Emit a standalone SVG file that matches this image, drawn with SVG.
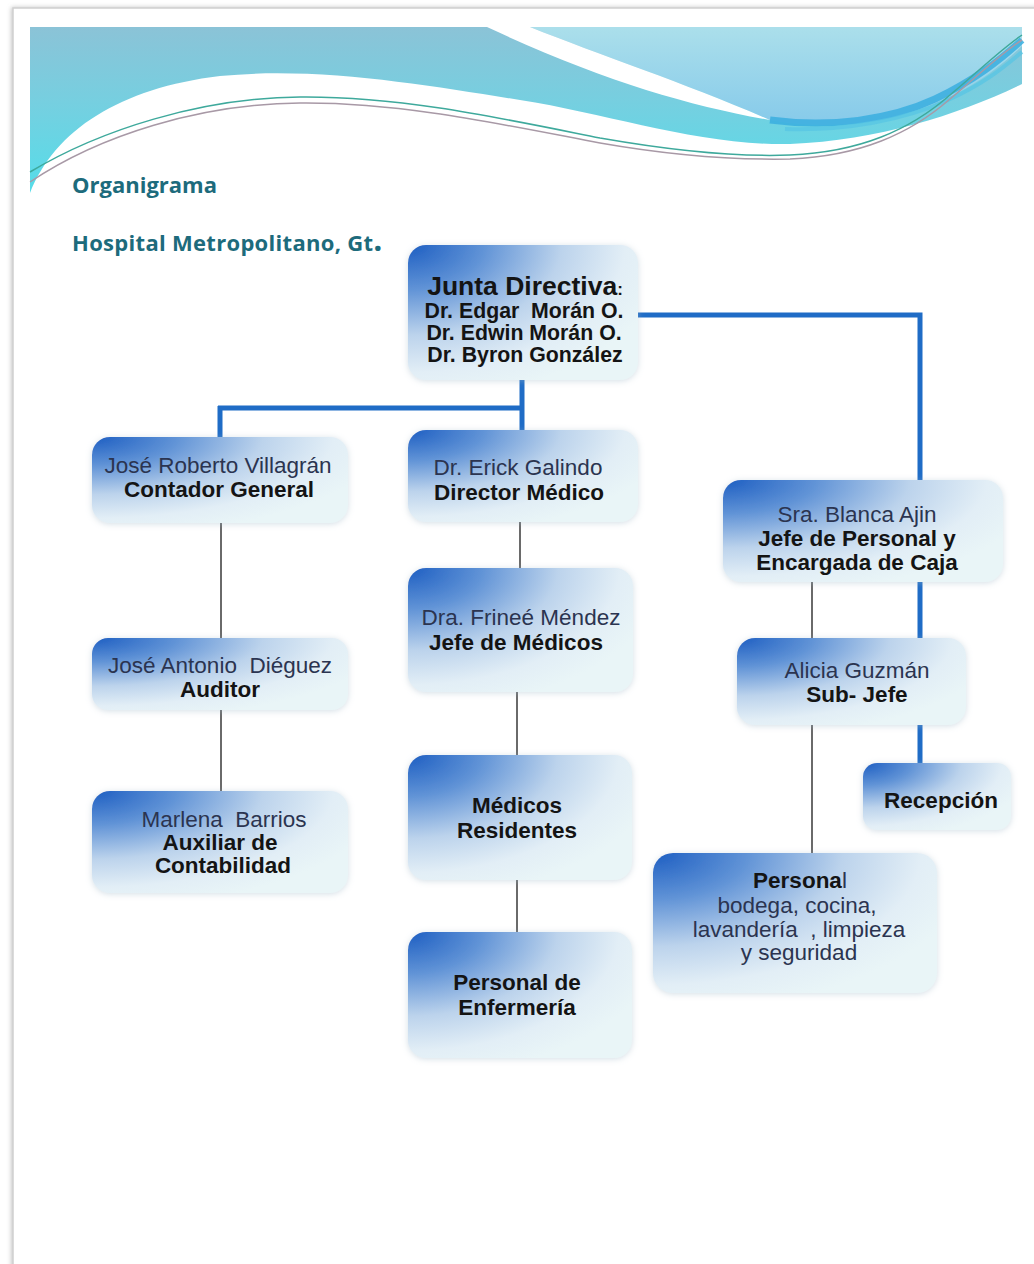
<svg xmlns="http://www.w3.org/2000/svg" width="1034" height="1264" viewBox="0 0 1034 1264">
  <defs>
    <linearGradient id="teal" x1="0" y1="27" x2="0" y2="193" gradientUnits="userSpaceOnUse">
      <stop offset="0" stop-color="#8bc3d7"/>
      <stop offset="0.45" stop-color="#76cfe0"/>
      <stop offset="1" stop-color="#55dde9"/>
    </linearGradient>
    <linearGradient id="light" x1="0" y1="27" x2="0" y2="125" gradientUnits="userSpaceOnUse">
      <stop offset="0" stop-color="#abdfeb"/>
      <stop offset="1" stop-color="#86caea"/>
    </linearGradient>
    <radialGradient id="ng" cx="0" cy="0" r="1.15" fx="0" fy="0" gradientUnits="objectBoundingBox">
      <stop offset="0" stop-color="#1d5ec2"/>
      <stop offset="0.28" stop-color="#5f92d6"/>
      <stop offset="0.58" stop-color="#bcd3ec"/>
      <stop offset="0.82" stop-color="#e2eef6"/>
      <stop offset="1" stop-color="#e9f5f7"/>
    </radialGradient>
    <filter id="glow" x="-10%" y="-15%" width="120%" height="130%">
      <feDropShadow dx="0" dy="1" stdDeviation="3" flood-color="#9fb6c8" flood-opacity="0.45"/>
    </filter>
    <filter id="page" x="-5%" y="-5%" width="110%" height="110%">
      <feDropShadow dx="-1" dy="0" stdDeviation="2" flood-color="#888" flood-opacity="0.5"/>
    </filter>
    <style>
      .box { fill: url(#ng); filter: url(#glow); }
      .nm { font-family: "Liberation Sans", Arial, sans-serif; font-size: 22.5px; fill: #2b3450; text-anchor: middle; }
      .tt { font-family: "Liberation Sans", Arial, sans-serif; font-size: 22.5px; font-weight: bold; fill: #141414; text-anchor: middle; }
      .big { font-size: 26.5px; }
      .dr { font-family: "Liberation Sans", Arial, sans-serif; font-size: 21.3px; font-weight: bold; fill: #141414; text-anchor: middle; }
      .head { font-family: "Open Sans", "Liberation Sans", sans-serif; font-weight: bold; fill: #1d6b7c; font-size: 22px; }
      .blue { stroke: #1f6cc6; stroke-width: 5; fill: none; }
      .gray { stroke: #6a6a6a; stroke-width: 2; fill: none; }
    </style>
  </defs>

  <rect x="0" y="0" width="1034" height="1264" fill="#ffffff"/>
  <rect x="13" y="8" width="1040" height="1280" fill="#ffffff" stroke="#cfcfcf" stroke-width="1.5" filter="url(#page)"/>

  <g id="header">
    <path d="M30,27 L1022,27 L1022,84 C960,114 880,140 790,144 C700,146 610,114 520,100 C430,86 320,66 220,76 C120,88 55,130 30,193 Z" fill="url(#teal)"/>
    <path d="M530,27 L1022,27 L1022,46 C985,82 940,108 880,120 C840,127 800,126 770,120 C690,85 600,55 530,27 Z" fill="url(#light)"/>
    <path d="M770,120 C830,128 890,120 935,99 C975,80 1000,60 1022,40" stroke="#3aaedf" stroke-width="7" fill="none" opacity="0.85"/>
    <path d="M785,129 C845,131 905,120 948,100 C988,82 1007,64 1022,52" stroke="#55c4e4" stroke-width="4" fill="none" opacity="0.7"/>
    <path d="M487,27 L530,27 C600,55 690,85 770,120 C690,106 600,80 487,27 Z" fill="#ffffff"/>
    <path d="M30,172 C100,130 200,98 300,97 C400,96 500,118 600,138 C680,152 740,157 790,155 C860,152 910,130 950,95 C980,70 1000,50 1022,35" stroke="#3ea99c" stroke-width="1.5" fill="none"/>
    <path d="M30,182 C100,135 200,104 300,103 C400,102 500,124 600,143 C680,157 740,160 790,159 C860,156 910,134 950,99 C980,74 1000,54 1022,40" stroke="#a899a6" stroke-width="1.5" fill="none"/>
  </g>

  <g id="titles">
    <text class="head" x="72" y="193">Organigrama</text>
    <text class="head" x="72" y="251" letter-spacing="0.3">Hospital Metropolitano, Gt<tspan style="font-size:32px">.</tspan></text>
  </g>

  <g id="connectors">
    <path class="blue" d="M522,380 V408 M218,408 H524.5 M220,406 V437 M522,408 V430"/>
    <path class="blue" d="M638,315 H920 V480"/>
    <path class="blue" d="M920,582 V638 M920,725 V763"/>
    <path class="gray" d="M221,523 V638 M221,710 V791"/>
    <path class="gray" d="M520,522 V568 M517,692 V755 M517,880 V932"/>
    <path class="gray" d="M812,582 V638 M812,725 V853"/>
  </g>

  <g id="junta">
    <rect class="box" x="408" y="245" width="230" height="135" rx="18"/>
    <text class="tt big" x="525" y="295">Junta Directiva<tspan style="font-size:17px">:</tspan></text>
    <text class="dr" x="524" y="318">Dr. Edgar&#160; Morán O.</text>
    <text class="dr" x="524" y="340">Dr. Edwin Morán O.</text>
    <text class="dr" x="525" y="362">Dr. Byron González</text>
  </g>

  <g id="contador">
    <rect class="box" x="92" y="437" width="256" height="86" rx="18"/>
    <text class="nm" x="218" y="473">José Roberto Villagrán</text>
    <text class="tt" x="219" y="497">Contador General</text>
  </g>

  <g id="auditor">
    <rect class="box" x="92" y="638" width="256" height="72" rx="16"/>
    <text class="nm" x="220" y="673">José Antonio&#160; Diéguez</text>
    <text class="tt" x="220" y="697">Auditor</text>
  </g>

  <g id="auxiliar">
    <rect class="box" x="92" y="791" width="256" height="102" rx="18"/>
    <text class="nm" x="224" y="827">Marlena&#160; Barrios</text>
    <text class="tt" x="220" y="850">Auxiliar de</text>
    <text class="tt" x="223" y="873">Contabilidad</text>
  </g>

  <g id="director">
    <rect class="box" x="408" y="430" width="230" height="92" rx="18"/>
    <text class="nm" x="518" y="475">Dr. Erick Galindo</text>
    <text class="tt" x="519" y="500">Director Médico</text>
  </g>

  <g id="jefe-medicos">
    <rect class="box" x="408" y="568" width="225" height="124" rx="18"/>
    <text class="nm" x="521" y="625">Dra. Frineé Méndez</text>
    <text class="tt" x="516" y="650">Jefe de Médicos</text>
  </g>

  <g id="residentes">
    <rect class="box" x="408" y="755" width="224" height="125" rx="18"/>
    <text class="tt" x="517" y="813">Médicos</text>
    <text class="tt" x="517" y="838">Residentes</text>
  </g>

  <g id="enfermeria">
    <rect class="box" x="408" y="932" width="224" height="126" rx="18"/>
    <text class="tt" x="517" y="990">Personal de</text>
    <text class="tt" x="517" y="1015">Enfermería</text>
  </g>

  <g id="jefe-personal">
    <rect class="box" x="723" y="480" width="280" height="102" rx="18"/>
    <text class="nm" x="857" y="522">Sra. Blanca Ajin</text>
    <text class="tt" x="857" y="546">Jefe de Personal y</text>
    <text class="tt" x="857" y="570">Encargada de Caja</text>
  </g>

  <g id="subjefe">
    <rect class="box" x="737" y="638" width="229" height="87" rx="18"/>
    <text class="nm" x="857" y="678">Alicia Guzmán</text>
    <text class="tt" x="857" y="702">Sub- Jefe</text>
  </g>

  <g id="recepcion">
    <rect class="box" x="863" y="763" width="148" height="67" rx="14"/>
    <text class="tt" x="941" y="808">Recepción</text>
  </g>

  <g id="personal">
    <rect class="box" x="653" y="853" width="284" height="140" rx="20"/>
    <text class="tt" x="800" y="888">Persona<tspan style="font-weight:normal;fill:#2b3450">l</tspan></text>
    <text class="nm" x="797" y="913">bodega, cocina,</text>
    <text class="nm" x="799" y="937">lavandería&#160; , limpieza</text>
    <text class="nm" x="799" y="960">y seguridad</text>
  </g>
</svg>
